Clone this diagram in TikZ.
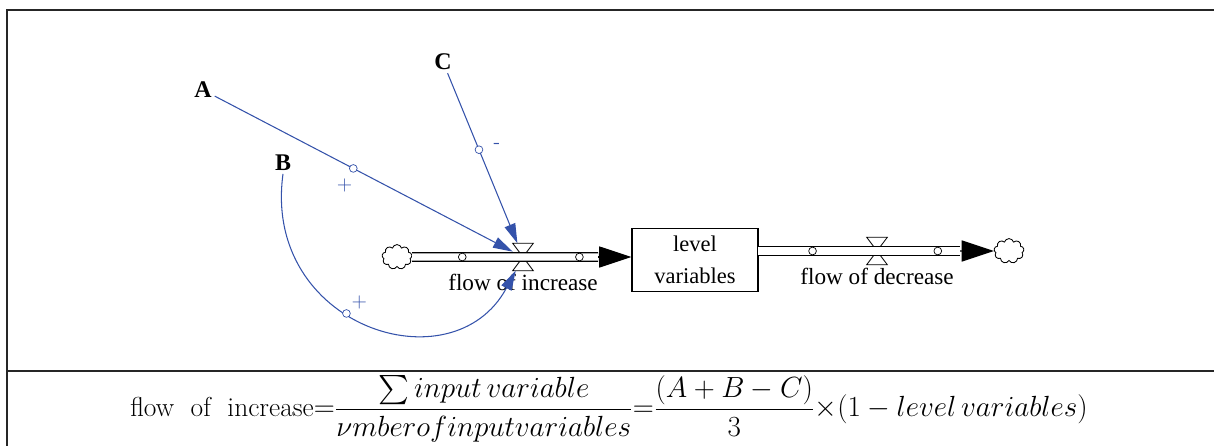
\documentclass[tikz,border=0pt]{standalone}
\usepackage{fontspec}
\usepackage{amsmath}
\usetikzlibrary{positioning, arrows.meta, shapes.symbols}
\newfontfamily\vsfont{Liberation Serif}
\definecolor{linkblue}{RGB}{52,82,170}

\begin{document}
\begin{tikzpicture}[
  x=0.025cm, y=-0.025cm,
  varname/.style={font=\vsfont\bfseries\fontsize{17}{20}\selectfont, inner sep=2pt},
  flowlbl/.style={font=\vsfont\fontsize{16.5}{20}\selectfont, inner sep=2pt},
  stock/.style={draw, line width=0.8pt, minimum width=3.15cm, minimum height=1.575cm,
                align=center, font=\vsfont\fontsize{16}{23}\selectfont},
  valve/.style={rectangle, inner sep=0pt, minimum width=0.5cm, minimum height=0.67cm},
  valveline/.style={line width=0.6pt},
  cloudsh/.style={cloud, cloud puffs=9, draw, line width=0.6pt,
                  minimum width=0.75cm, minimum height=0.62cm, inner sep=0pt},
  pipe/.style={double, double distance=5pt, line width=0.9pt},
  flowtip/.style={-{Triangle[length=23pt, width=15pt]}, line width=0.9pt},
  link/.style={draw=linkblue, line width=0.75pt, -{Triangle[length=14pt, width=8pt]}, linkblue},
  handle/.style={circle, draw, fill=white, line width=0.5pt, inner sep=0pt, minimum size=5.5pt},
  sign/.style={font=\sffamily\Large, text=linkblue, inner sep=1pt},
  formula/.style={font=\fontsize{19.5}{23}\selectfont, inner sep=0pt},
  frame/.style={line width=0.9pt, draw=black!85},
]
\useasboundingbox (0,0) rectangle (1214,446);

% Frame
\draw[frame] (7,446) -- (7,10) -- (1214,10);
\draw[frame] (7,371) -- (1214,371);

% Stock and flows
\node[stock] (lv) at (695,260) {level\\variables};
\node[valve] (v1) at (523,257) {};
\node[valve] (v2) at (877,251) {};
\node[cloudsh] (src) at (397,257) {};
\node[cloudsh] (snk) at (1009,251) {};
\coordinate (t1) at (598,257);
\coordinate (t2) at (960,251);
\coordinate (s2) at (758,251);

\foreach \v in {v1,v2}
  \draw[valveline] (\v.north west) -- (\v.north east) -- (\v.south west)
                   -- (\v.south east) -- cycle;

% Pipes
\draw[pipe] (src.east) -- (t1);
\draw[pipe] (s2) -- (t2);
\path (src.east) -- (t1) node[handle, pos=0.27] {} node[handle, pos=0.9] {};
\path (s2) -- (t2) node[handle, pos=0.27] {} node[handle, pos=0.89] {};
\draw[flowtip] (t1) -- (t1 -| lv.west);
\draw[flowtip] (t2) -- (snk.west);

\node[flowlbl, below=0pt of v1] (fin) {flow of increase};
\node[flowlbl, below=0pt of v2] (fout) {flow of decrease};

% Input variables
\node[varname] (A) at (203,90) {A};
\node[varname] (B) at (283,163) {B};
\node[varname] (C) at (443,62) {C};

% Links
\draw[link] (A) -- (v1)
  node[handle, pos=0.465] {} node[sign, pos=0.44, below left=9pt and -6pt] {+};
\draw[link] (C) -- (v1)
  node[handle, pos=0.45] {} node[sign, pos=0.43, right=10pt] {-};
\draw[link] (B.south) .. controls (262,327) and (453,388) .. (v1)
  node[handle, pos=0.43] {} node[sign, pos=0.45, above right=4pt and -2pt] {+};

% Equation
\node[formula] (eq) at (609,409)
  {flow\ \ of\ \ increase${=}\dfrac{\sum input\,variable}{\nu mberofinputvariables}
   {=}\dfrac{(A+B-C)}{3}{\times}(1-level\,variables)$};

\end{tikzpicture}
\end{document}
